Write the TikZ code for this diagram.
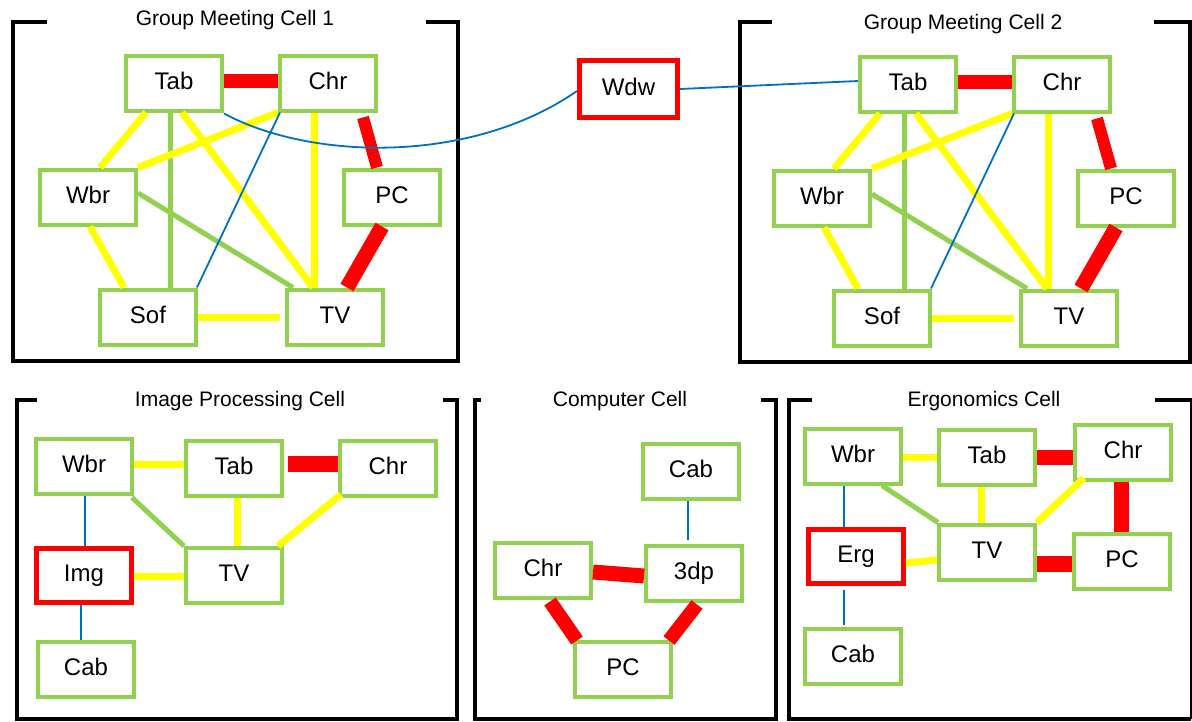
\documentclass[tikz,border=0pt]{standalone}
\usepackage{fontspec}
\setmainfont{Liberation Sans}
\usetikzlibrary{calc}

\definecolor{cellgreen}{HTML}{92D050}
\definecolor{linkblue}{HTML}{0070C0}
\definecolor{linkyellow}{HTML}{FFFF00}
\definecolor{linkred}{HTML}{FF0000}

\tikzset{
  unit/.style={draw=cellgreen, line width=4pt, fill=white,
    minimum width=96pt, minimum height=55pt, inner sep=0pt,
    text height=17pt, text depth=5pt,
    font=\fontsize{24}{28}\selectfont},
  keyunit/.style={unit, draw=linkred, line width=5pt,
    minimum width=95pt, minimum height=54pt},
  frame/.style={draw=black, line width=4pt},
  celltitle/.style={anchor=base, inner sep=0pt,
    font=\fontsize{21}{25}\selectfont},
  weak/.style={draw=linkblue, line width=1.8pt},
  mid/.style={draw=linkyellow, line width=7pt},
  bond/.style={draw=cellgreen, line width=5pt},
  strong/.style={draw=linkred, line width=#1},
  strong/.default=14pt,
}

% one group meeting cell: #1 = shift, #2 = name suffix
\newcommand{\meetingcell}[2]{%
  \begin{scope}[shift={#1}]
    \node[unit] (tab#2) at (174,83) {Tab};
    \node[unit] (chr#2) at (328,83) {Chr};
    \node[unit] (wbr#2) at (88,197) {Wbr};
    \node[unit] (pc#2)  at (392,197) {PC};
    \node[unit] (sof#2) at (148,317) {Sof};
    \node[unit] (tv#2)  at (335,317) {TV};
  \end{scope}
  \draw[bond] ($(tab#2.south)+(-4,0)$) -- ($(sof#2.north)+(22,0)$);
  \draw[bond] ($(wbr#2.east)+(0,-4)$) -- ($(tv#2.north west)+(8,0)$);
  \draw[mid] ($(tab#2.south)+(-28,0)$) -- ($(wbr#2.north)+(12,0)$);
  \draw[mid] ($(tab#2.south)+(8,0)$) -- ($(tv#2.north)+(-22,0)$);
  \draw[mid] (chr#2.south west) -- (wbr#2.north east);
  \draw[mid] ($(chr#2.south)+(-14,0)$) -- ($(tv#2.north)+(-21,0)$);
  \draw[mid] ($(wbr#2.south)+(2,0)$) -- ($(sof#2.north)+(-24,0)$);
  \draw[mid] (sof#2.east) -- ($(tv#2.west)+(-5,0)$);
  \draw[strong=14pt] ($(tab#2.east)+(0,-2)$) -- ($(chr#2.west)+(0,-2)$);
  \draw[strong=12pt] ($(chr#2.south)+(35,5)$) -- ($(pc#2.north)+(-15,0)$);
  \draw[strong=15pt] ($(pc#2.south)+(-10,0)$) -- ($(tv#2.north)+(12,0)$);
  \draw[weak] ($(chr#2.south west)+(2,0)$) -- ($(sof#2.north east)+(-1,0)$);
}

\begin{document}
\begin{tikzpicture}[x=1pt,y=-1pt]
\useasboundingbox (0,0) rectangle (1192,721);
\fill[white] (0,0) rectangle (1192,721);

% open-topped cell frames
\draw[frame] (47,22) -- (13,22) -- (13,361) -- (458,361) -- (458,22) -- (426,22);
\draw[frame] (772,22) -- (740,22) -- (740,362) -- (1190,362) -- (1190,22) -- (1154,22);
\draw[frame] (37,400) -- (17,400) -- (17,719) -- (457,719) -- (457,400) -- (443,400);
\draw[frame] (481,400) -- (475,400) -- (475,719) -- (776,719) -- (776,400) -- (761,400);
\draw[frame] (812,400) -- (789,400) -- (789,719) -- (1191,719);
\draw[black, line width=1.2pt] (1191,719) -- (1191,400);
\draw[frame] (1192,400) -- (1155,400);

% cell titles
\node[celltitle] (title1) at (235,25) {Group Meeting Cell 1};
\node[celltitle] (title2) at (963,29) {Group Meeting Cell 2};
\node[celltitle] (title3) at (240,406) {Image Processing Cell};
\node[celltitle] (title4) at (620,406) {Computer Cell};
\node[celltitle] (title5) at (984,406) {Ergonomics Cell};

% the two group meeting cells
\meetingcell{(0,0)}{1}
\meetingcell{(734,1)}{2}

% shared window between the meeting cells
\node[keyunit, minimum width=98pt, minimum height=57pt] (wdw) at (628.5,89) {Wdw};
\draw[weak] ($(tab1.south east)+(0,1)$) .. controls (310,160) and (470,165) .. ($(wdw.west)+(0,2)$);
\draw[weak] (wdw.east) -- ($(tab2.west)+(0,-3)$);

% image processing cell
\node[unit] (iwbr) at (84,466) {Wbr};
\node[unit] (itab) at (234,468) {Tab};
\node[unit] (ichr) at (388,468) {Chr};
\node[keyunit] (iimg) at (84,575.5) {Img};
\node[unit] (itv)  at (234,575.5) {TV};
\node[unit] (icab) at (86,669) {Cab};
\draw[bond] ($(iwbr.south east)+(-2,2)$) -- (itv.north west);
\draw[mid] ($(iwbr.east)+(0,-2)$) -- ($(itab.west)+(0,-4)$);
\draw[mid] ($(itab.south)+(3,0)$) -- ($(itv.north)+(3,0)$);
\draw[mid] ($(ichr.south west)+(3,-3)$) -- ($(itv.north east)+(-6,0)$);
\draw[mid] ($(iimg.east)+(0,1)$) -- ($(itv.west)+(0,1)$);
\draw[strong=16pt] ($(itab.east)+(4,-4)$) -- ($(ichr.west)+(0,-4)$);
\draw[weak] ($(iwbr.south)+(1,0)$) -- ($(iimg.north)+(1,0)$);
\draw[weak] ($(iimg.south)+(-3,0)$) -- ($(icab.north)+(-5,0)$);

% computer cell
\node[unit] (ccab) at (691,471) {Cab};
\node[unit] (cchr) at (543,570) {Chr};
\node[unit] (cdp)  at (694,573) {3dp};
\node[unit] (cpc)  at (623,669) {PC};
\draw[weak] ($(ccab.south)+(-3,0)$) -- ($(cdp.north)+(-6,-4)$);
\draw[strong=15pt] ($(cchr.east)+(0,2)$) -- ($(cdp.west)+(0,3)$);
\draw[strong=14pt] ($(cchr.south)+(7,2)$) -- ($(cpc.north)+(-46,1)$);
\draw[strong=14pt] ($(cdp.south)+(3,2)$) -- ($(cpc.north)+(46,1)$);

% ergonomics cell
\node[unit] (ewbr) at (853,456) {Wbr};
\node[unit] (etab) at (987,457) {Tab};
\node[unit] (echr) at (1123,452.5) {Chr};
\node[keyunit] (eerg) at (856,556) {Erg};
\node[unit] (etv)  at (987,552) {TV};
\node[unit] (epc)  at (1122,561.5) {PC};
\node[unit] (ecab) at (853,656) {Cab};
\draw[bond] ($(ewbr.south)+(29,0)$) -- ($(etv.north west)+(1,0)$);
\draw[mid] ($(ewbr.east)+(0,1)$) -- (etab.west);
\draw[mid] ($(etab.south)+(-6,0)$) -- ($(etv.north)+(-6,0)$);
\draw[mid] ($(echr.south west)+(11,-4)$) -- (etv.north east);
\draw[mid] ($(eerg.east)+(0,7)$) -- ($(etv.west)+(0,8)$);
\draw[strong=15pt] (etab.east) -- ($(echr.west)+(0,4.5)$);
\draw[strong=15pt] ($(echr.south)+(-2,0)$) -- ($(epc.north)+(-1,0)$);
\draw[strong=16pt] ($(etv.east)+(0,12)$) -- ($(epc.west)+(0,2.5)$);
\draw[weak] ($(ewbr.south)+(-9,0)$) -- ($(eerg.north)+(-12,0)$);
\draw[weak] ($(eerg.south)+(-12,4)$) -- ($(ecab.north)+(-9,-2)$);
\end{tikzpicture}
\end{document}
